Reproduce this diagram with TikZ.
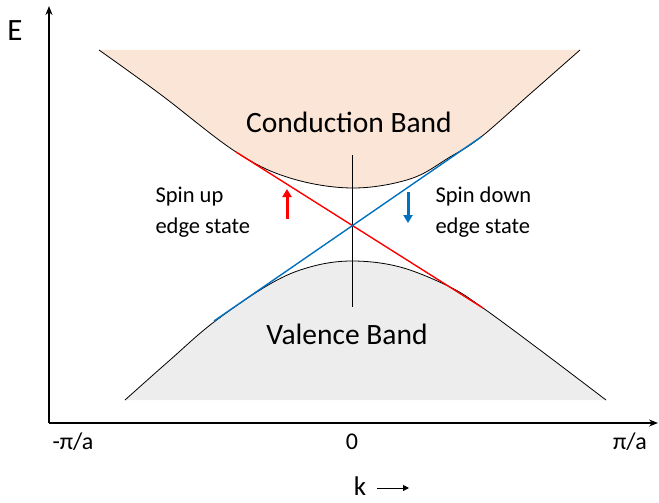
\documentclass[tikz,border=0pt]{standalone}
\usepackage{fontspec}
\setmainfont{Carlito}
\usetikzlibrary{arrows.meta}
\definecolor{condfill}{HTML}{FBE5D6}
\definecolor{valfill}{HTML}{EDEDED}
\definecolor{spinred}{HTML}{FF0000}
\definecolor{spinblue}{HTML}{0070C0}
\tikzset{
  axis/.style={line width=1.6pt, -{Stealth[length=9pt,width=7pt]}},
  band/.style={line width=0.8pt},
  edge/.style={line width=1.4pt},
  spin/.style={line width=3pt, -{Triangle[length=8pt,width=9pt]}},
  bandlabel/.style={font=\fontsize{29.5}{32}\selectfont},
  spinlabel/.style={align=left, font=\fontsize{22.5}{31}\selectfont},
  ticklabel/.style={font=\fontsize{24}{26}\selectfont}
}
\begin{document}
\begin{tikzpicture}[x=1pt, y=-1pt]
\useasboundingbox (0,0) rectangle (659,503);
% bands
\fill[condfill] plot[smooth, tension=0.6] coordinates {(99,50) (160,94) (236,152) (290,178) (352,188) (410,179) (450,157) (481,137) (530,94) (580,50)} -- cycle;
\draw[band] plot[smooth, tension=0.6] coordinates {(99,50) (160,94) (236,152) (290,178) (352,188) (410,179) (450,157) (481,137) (530,94) (580,50)};
\fill[valfill] plot[smooth, tension=0.6] coordinates {(125,400) (170,360) (214,322) (270,284) (310,267) (352,261) (400,267) (450,287) (483,308) (540,350) (606,400)} -- cycle;
\draw[band] plot[smooth, tension=0.6] coordinates {(125,400) (170,360) (214,322) (270,284) (310,267) (352,261) (400,267) (450,287) (483,308) (540,350) (606,400)};
% axes
\coordinate (o) at (49,423);
\coordinate (etop) at (49,6);
\coordinate (kend) at (658,423);
\draw[axis] (o) -- (etop);
\draw[axis] (o) -- (kend);
\coordinate (gtop) at (352,155);
\coordinate (gbot) at (352,307);
\draw[band] (gtop) -- (gbot);
% edge states
\coordinate (ra) at (236,152);
\coordinate (rb) at (483,308);
\coordinate (ba) at (214,321);
\coordinate (bb) at (481,137);
\draw[edge, spinred] (ra) -- (rb);
\draw[edge, spinblue] (ba) -- (bb);
\coordinate (upa) at (287,219);
\coordinate (upb) at (287,189);
\coordinate (dna) at (408,192);
\coordinate (dnb) at (408,223);
\draw[spin, spinred] (upa) -- (upb);
\draw[spin, spinblue] (dna) -- (dnb);
% labels
\node[bandlabel] (cb) at (349,122) {Conduction Band};
\node[bandlabel] (vb) at (347,334) {Valence Band};
\node[spinlabel, anchor=west] (su) at (152,212) {Spin up\\edge state};
\node[spinlabel, anchor=west] (sd) at (432,212) {Spin down\\edge state};
\node[ticklabel, font=\fontsize{31}{33}\selectfont] (e) at (15,31) {E};
\node[ticklabel] (km) at (73,442) {-π/a};
\node[ticklabel] (k0) at (352,442) {0};
\node[ticklabel] (kp) at (630,442) {π/a};
\node[ticklabel, font=\fontsize{27}{29}\selectfont, inner sep=0pt, anchor=base] (k) at (360,495) {k};
\coordinate (ka) at (377,488);
\coordinate (kb) at (409,488);
\draw[line width=1pt, -{Triangle[length=6pt,width=6pt]}] (ka) -- (kb);
\end{tikzpicture}
\end{document}
